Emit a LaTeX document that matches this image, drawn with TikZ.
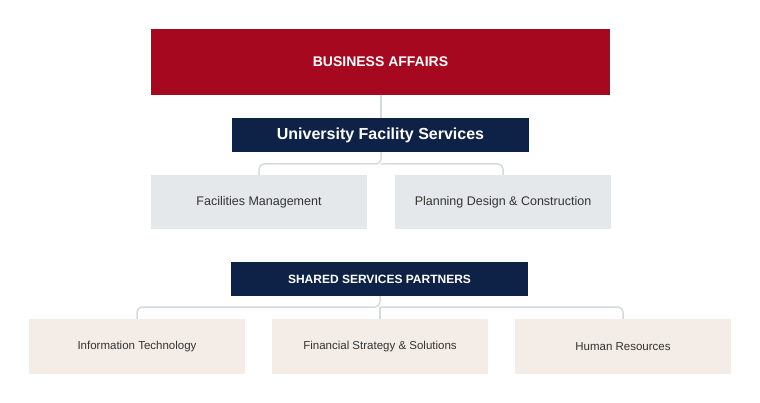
\documentclass[tikz,border=0pt]{standalone}
\usepackage{fontspec}
\setmainfont{Liberation Sans}
\usepackage{tikz}
\usetikzlibrary{calc}
\definecolor{bizred}{HTML}{A6091F}
\definecolor{navy}{HTML}{0E2247}
\definecolor{unitgray}{HTML}{E4E8EA}
\definecolor{partnerbeige}{HTML}{F4ECE6}
\definecolor{linkgray}{HTML}{D5DADD}

\begin{document}
\begin{tikzpicture}[x=1pt,y=-1pt,
	head/.style={fill=bizred, text=white, font=\bfseries\fontsize{14}{16}\selectfont},
	dept/.style={fill=navy, text=white, font=\bfseries\fontsize{16}{18}\selectfont},
	group/.style={fill=navy, text=white, font=\bfseries\fontsize{12}{14}\selectfont},
	unit/.style={fill=unitgray, text=black!80, font=\fontsize{12.5}{14}\selectfont},
	partner/.style={fill=partnerbeige, text=black!80, font=\fontsize{11.5}{14}\selectfont},
	link/.style={draw=linkgray, line width=1.5pt, rounded corners=5pt}]
\useasboundingbox (0,0) rectangle (760,403);

% connectors first, boxes on top
\draw[link] (381,95) -- (381,118);
\draw[link] (381,152) -- (381,164) -| (259,175);
\draw[link] (381,164) -| (503,175);
\draw[link] (380,296) -- (380,307) -| (137,319);
\draw[link] (380,307) -| (623,319);
\draw[link] (380,307) -- (380,319);

\path[head] (151,29) rectangle (610,95);
\node[head] (biz) at (380.5,62) {BUSINESS AFFAIRS};
\path[dept] (232,118) rectangle (529,152);
\node[dept] (ufs) at (380.5,135) {University Facility Services};
\path[unit] (151,175) rectangle (367,229);
\node[unit] (fm) at (259,202) {Facilities Management};
\path[unit] (395,175) rectangle (611,229);
\node[unit] (pdc) at (503,202) {Planning Design \& Construction};
\path[group] (231,262) rectangle (528,296);
\node[group] (ssp) at (379.5,279) {SHARED SERVICES PARTNERS};
\foreach \cx/\name/\txt in {137/it/Information Technology,
	380/fss/Financial Strategy \& Solutions, 623/hr/Human Resources}{
	\path[partner] (\cx-108,319) rectangle (\cx+108,374);
	\node[partner] (\name) at (\cx,346.5) {\txt};
}
\end{tikzpicture}
\end{document}
